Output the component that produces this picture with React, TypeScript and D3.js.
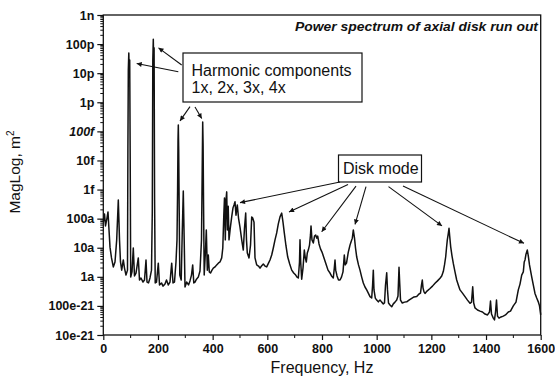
import React, { useRef, useEffect } from 'react';
import * as d3 from 'd3';

// frequency (Hz) and log10 of magnitude (m^2)
const freqHz = [
  0, 4.4, 8, 13.5, 17.2, 20.9, 24.5, 30, 36.6, 42.8, 49, 54.9, 59.3, 62.9, 67.3, 73.2, 77.5, 83, 88.5,
  90, 91.5, 93.3, 95.1, 96.6, 98.4, 100.2, 105, 109.7, 114.1, 119.6, 128, 132.4, 137.9, 145.2, 150.7,
  156.2, 159.9, 165.3, 170.8, 176.3, 179.2, 181.1, 182.9, 184.4, 185.8, 187.6, 189.9, 194.6, 201.2,
  205.6, 212.9, 218.4, 225.7, 231.2, 237.8, 244, 250.2, 255, 260.4, 265.9, 269.6, 271.8, 273.3, 274.4,
  275.8, 277.3, 279.8, 285, 289, 292.6, 295.9, 298.9, 305.1, 311.7, 317.1, 322.6, 327, 331, 335.4,
  340.9, 347.5, 353.7, 359.2, 361.8, 363.6, 365.1, 366.6, 369.1, 373.9, 376.8, 380.5, 384.1, 387.7,
  392.1, 397.6, 402.4, 408.6, 414.8, 420.7, 426.9, 433.1, 437.1, 440.8, 443.3, 446.3, 448.8, 451.4,
  454, 456.9, 459.8, 464.6, 469.7, 474.4, 478.1, 481.8, 485.4, 490.2, 494.6, 500, 506.3, 512.1, 516.5,
  520.9, 523.8, 526.8, 533, 538.5, 542.9, 546.5, 551.3, 554.9, 561.1, 567.7, 573.2, 578.7, 585.3,
  591.5, 597.7, 604.3, 609.8, 616, 621.9, 628.1, 634.3, 640.2, 646.4, 652.6, 657.3, 662.1, 668.3,
  674.6, 681.9, 689.2, 696.5, 703.8, 708.6, 713.3, 717.7, 719.5, 722.1, 725.7, 730.5, 735.3, 738.9,
  742.6, 746.2, 749.9, 754.3, 757.9, 759.8, 763.4, 768.2, 772.6, 777, 780.7, 784.3, 789.1, 794.5,
  800, 807.3, 814.6, 822, 829.3, 834.8, 841.3, 845, 847.6, 850.1, 854.9, 860.4, 865.9, 871.3, 876.8,
  881.6, 884.9, 889.6, 896.2, 899.9, 902.4, 906.1, 910.9, 914.5, 918.9, 922.6, 927, 933.5, 939, 945.2,
  951.1, 957.3, 963.5, 969.4, 975.6, 981.8, 985.1, 987.7, 990.2, 995, 1000.1, 1006, 1012.2, 1018.4,
  1024.2, 1028.6, 1032.3, 1036.7, 1039.6, 1043.3, 1048.7, 1055, 1060.8, 1067, 1073.3, 1078, 1081.7,
  1084.6, 1087.2, 1093.7, 1101.8, 1109.8, 1118.2, 1128.1, 1136.5, 1146.4, 1154.8, 1160.3, 1164,
  1166.9, 1169.5, 1173.1, 1176.8, 1184.1, 1195.1, 1204.2, 1213.4, 1222.5, 1231.7, 1237.9, 1243.7,
  1248.1, 1252.5, 1255.4, 1258.4, 1261.7, 1264.6, 1267.1, 1270.8, 1275.5, 1280.3, 1286.5, 1292.7,
  1298.6, 1304.8, 1313.9, 1323.1, 1332.2, 1341.4, 1346.9, 1351.3, 1354.9, 1359.7, 1368.8, 1378,
  1387.1, 1396.3, 1405.4, 1412.7, 1416.4, 1420.1, 1426.6, 1431, 1434.7, 1438.3, 1442, 1447.5, 1454.8,
  1463.2, 1471.2, 1481.5, 1489.5, 1499.8, 1509.6, 1518.1, 1524.3, 1530.5, 1536.4, 1539.7, 1542.6,
  1546.2, 1551, 1554.6, 1559, 1567.1, 1572.9, 1579.1, 1585.4, 1591.2, 1595.6, 1600,
];

const magExp = [
  -16.12, -15.84, -16.25, -15.98, -15.77, -16.39, -16.98, -17.35, -17.66, -17.49, -16.73, -15.36, -16.73, -17.49, -17.77, -17.42, -17.7, -17.94, -17.77,
  -13.64, -10.89, -10.31, -11.06, -10.55, -13.98, -18.01, -17.83, -17.01, -17.97, -17.87, -17.35, -18.11, -18.04, -18.18, -18.11,
  -17.42, -18.18, -18.21, -18.04, -17.77, -15.77, -10.55, -9.83, -10.72, -10.13, -15.36, -18.21, -18.18, -17.53,
  -18.28, -18.21, -18.32, -18.25, -18.11, -18.28, -18.18, -17.53, -18.21, -18.18, -17.49, -16.73, -15.02, -13.3, -12.78,
  -13.64, -15.36, -17.94, -18.11, -16.39, -15.05, -16.73, -18.35, -18.18, -18.28, -18.14, -17.94, -17.59, -18.21, -18.18,
  -18.08, -18.01, -17.8, -16.73, -14.33, -12.68, -13.47, -15.36, -17.94, -17.08, -16.39, -17.77, -17.25, -17.83,
  -17.87, -17.77, -17.7, -17.66, -17.59, -17.53, -17.49, -17.35, -17.01, -15.88, -15.29, -16.73, -15.36, -15.08,
  -16.39, -15.57, -16.73, -16.32, -15.94, -15.63, -15.53, -15.42, -15.88, -15.53, -15.98, -16.29, -16.73, -17.08, -16.32,
  -15.81, -16.73, -17.18, -17.35, -16.91, -15.94, -15.98, -16.12, -17.35, -17.59, -17.63, -17.7, -17.63, -17.56,
  -17.63, -17.66, -17.53, -17.42, -17.25, -17.01, -16.73, -16.49, -16.18, -15.94, -15.81, -16.12, -16.49, -16.94,
  -17.32, -17.56, -17.77, -17.87, -17.94, -18.01, -18.04, -17.49, -16.73, -17.49, -18.08, -17.7, -17.08, -17.35,
  -17.49, -17.18, -17.08, -16.91, -16.56, -16.25, -16.73, -16.84, -16.6, -16.56, -16.67, -16.6, -16.87, -17.04,
  -17.15, -17.35, -17.56, -17.77, -17.87, -17.97, -18.04, -17.7, -17.42, -17.77, -17.97, -18.11, -18.11, -18.01, -17.83,
  -17.25, -17.59, -17.53, -17.15, -17.01, -16.91, -16.8, -16.67, -16.39, -16.67, -17.01, -17.32, -17.59, -17.77, -18.01,
  -18.21, -18.35, -18.45, -18.56, -18.68, -18.73, -18.28, -17.77, -18.45, -18.73, -18.8, -18.86, -18.8, -18.87,
  -18.93, -18.9, -18.28, -17.86, -18.45, -18.9, -18.97, -19.03, -18.93, -18.87, -18.8, -18.66, -17.67,
  -18.28, -18.8, -18.9, -18.87, -18.86, -18.8, -18.74, -18.69, -18.68, -18.59, -18.56, -18.28,
  -18.11, -18.38, -18.52, -18.57, -18.49, -18.4, -18.32, -18.22, -18.14, -18.05, -17.97, -17.82,
  -17.59, -17.31, -17.01, -16.73, -16.53, -16.33, -16.6, -16.97, -17.28, -17.54, -17.83, -18.11,
  -18.28, -18.45, -18.56, -18.68, -18.8, -18.91, -18.87, -18.34, -18.9, -19.07, -19.14, -19.18,
  -19.21, -19.28, -19.31, -19.21, -18.83, -19.28, -19.42, -19.48, -19.21, -18.8, -19.35, -19.42, -19.38,
  -19.35, -19.31, -19.21, -19.18, -19.0, -18.87, -18.45, -18.25, -17.94, -17.83, -17.49, -17.42,
  -17.22, -17.08, -17.28, -17.59, -18.0, -18.28, -18.57, -18.73, -18.86, -19.0, -19.31,
];

const yTickValues = [1e-9, 1e-10, 1e-11, 1e-12, 1e-13, 1e-14, 1e-15, 1e-16, 1e-17, 1e-18, 1e-19, 1e-20];
const yTickLabels = ['1n', '100p', '10p', '1p', '100f', '10f', '1f', '100a', '10a', '1a', '100e-21', '10e-21'];
const xTickValues = [0, 200, 400, 600, 800, 1000, 1200, 1400, 1600];

// annotation arrows in data units: [fromHz, fromExp, toHz, toExp]
const harmonicArrows = [
  [274.4, -10.95, 122.2, -10.67],
  [286.8, -10.72, 201.9, -10.13],
  [317.1, -12.15, 280.6, -12.64],
  [335.4, -12.16, 360.0, -12.56],
];
const diskArrows = [
  [865.9, -14.74, 500.0, -15.45],
  [895.1, -14.83, 679.3, -15.77],
  [924.4, -14.88, 798.9, -16.45],
  [961.0, -14.9, 920.8, -16.2],
  [1043.3, -14.9, 1239.0, -16.25],
  [1096.3, -14.88, 1538.9, -16.85],
];

const FONT = "'Liberation Sans', Arial, sans-serif";

function Spectrum({ width = 555, height = 387 }) {
  const svgRef = useRef(null);

  useEffect(() => {
    const svg = d3.select(svgRef.current);
    svg.selectAll('*').remove();
    svg.attr('width', width).attr('height', height);

    const left = 103.3, right = 540.7, top = 15, bottom = 335;
    const x = d3.scaleLinear().domain([0, 1600]).range([left, right]);
    const y = d3.scaleLog().domain([1e-20, 1e-9]).range([bottom, top]);

    const defs = svg.append('defs');
    defs.append('marker')
      .attr('id', 'head')
      .attr('viewBox', '0 0 10 10')
      .attr('refX', 10).attr('refY', 5)
      .attr('markerWidth', 7).attr('markerHeight', 5)
      .attr('markerUnits', 'userSpaceOnUse')
      .attr('orient', 'auto')
      .append('path')
      .attr('d', 'M0,0 L10,5 L0,10 Z')
      .attr('fill', '#111');

    svg.append('rect').attr('width', width).attr('height', height).attr('fill', '#fff');

    // spectrum trace
    const pts = freqHz.map((f, i) => [f, Math.pow(10, magExp[i])]);
    svg.append('path')
      .datum(pts)
      .attr('fill', 'none')
      .attr('stroke', '#111')
      .attr('stroke-width', 1.5)
      .attr('stroke-linejoin', 'round')
      .attr('d', d3.line().x(d => x(d[0])).y(d => y(d[1])));

    // frame
    svg.append('rect')
      .attr('x', left).attr('y', top)
      .attr('width', right - left).attr('height', bottom - top)
      .attr('fill', 'none').attr('stroke', '#111').attr('stroke-width', 1.3);

    // y axis
    const yAxis = d3.axisLeft(y)
      .tickValues(yTickValues)
      .tickFormat((d, i) => yTickLabels[i])
      .tickSize(6)
      .tickPadding(3);
    const gy = svg.append('g').attr('transform', `translate(${left},0)`).call(yAxis);
    gy.select('.domain').remove();
    gy.selectAll('line').attr('stroke', '#111').attr('stroke-width', 1.2);
    gy.selectAll('text')
      .attr('font-family', FONT).attr('font-size', 12.5).attr('font-weight', 'bold').attr('fill', '#111')
      .attr('font-style', (d, i) => (yTickLabels[i] === '100f' ? 'italic' : 'normal'));

    const yMinor = [];
    for (let e = -20; e < -9; e++) for (let k = 2; k <= 9; k++) yMinor.push(k * Math.pow(10, e));
    svg.append('g').selectAll('line').data(yMinor).enter().append('line')
      .attr('x1', left - 3).attr('x2', left)
      .attr('y1', d => y(d)).attr('y2', d => y(d))
      .attr('stroke', '#111').attr('stroke-width', 1);

    // x axis
    const xAxis = d3.axisBottom(x).tickValues(xTickValues).tickFormat(d3.format('d')).tickSize(5).tickPadding(4);
    const gx = svg.append('g').attr('transform', `translate(0,${bottom})`).call(xAxis);
    gx.select('.domain').remove();
    gx.selectAll('line').attr('stroke', '#111').attr('stroke-width', 1.2);
    gx.selectAll('text')
      .attr('font-family', FONT).attr('font-size', 12.5).attr('font-weight', 'bold').attr('fill', '#111');
    svg.append('g').selectAll('line').data(d3.range(100, 1600, 200)).enter().append('line')
      .attr('x1', d => x(d)).attr('x2', d => x(d))
      .attr('y1', bottom).attr('y2', bottom + 3)
      .attr('stroke', '#111').attr('stroke-width', 1);

    // axis titles
    svg.append('text')
      .attr('x', (left + right) / 2).attr('y', 373)
      .attr('text-anchor', 'middle')
      .attr('font-family', FONT).attr('font-size', 16).attr('fill', '#111')
      .text('Frequency, Hz');
    const yl = svg.append('text')
      .attr('transform', 'translate(20,172) rotate(-90)')
      .attr('text-anchor', 'middle')
      .attr('font-family', FONT).attr('font-size', 15.5).attr('fill', '#111');
    yl.append('tspan').text('MagLog, m');
    yl.append('tspan').attr('dy', -6).attr('font-size', 10).text('2');

    // title
    svg.append('text')
      .attr('x', 538).attr('y', 31)
      .attr('text-anchor', 'end')
      .attr('font-family', FONT).attr('font-size', 12.5)
      .attr('font-weight', 'bold').attr('font-style', 'italic').attr('fill', '#111')
      .attr('textLength', 243).attr('lengthAdjust', 'spacingAndGlyphs')
      .text('Power spectrum of axial disk run out');

    // annotation boxes
    svg.append('rect')
      .attr('x', 183).attr('y', 53).attr('width', 179).attr('height', 49)
      .attr('fill', '#fff').attr('stroke', '#111').attr('stroke-width', 1.2);
    const ht = svg.append('text').attr('font-family', FONT).attr('font-size', 16).attr('fill', '#111');
    ht.append('tspan').attr('x', 191.5).attr('y', 76).text('Harmonic components');
    ht.append('tspan').attr('x', 191.5).attr('y', 93).text('1x, 2x, 3x, 4x');

    svg.append('rect')
      .attr('x', 338.5).attr('y', 155).attr('width', 83).attr('height', 27)
      .attr('fill', '#fff').attr('stroke', '#111').attr('stroke-width', 1.2);
    svg.append('text')
      .attr('x', 343).attr('y', 173.5)
      .attr('font-family', FONT).attr('font-size', 16).attr('fill', '#111')
      .text('Disk mode');

    // arrows
    svg.append('g').selectAll('line').data(harmonicArrows.concat(diskArrows)).enter().append('line')
      .attr('x1', d => x(d[0])).attr('y1', d => y(Math.pow(10, d[1])))
      .attr('x2', d => x(d[2])).attr('y2', d => y(Math.pow(10, d[3])))
      .attr('stroke', '#111').attr('stroke-width', 1.1)
      .attr('marker-end', 'url(#head)');
  }, [width, height]);

  return <svg ref={svgRef} style={{ position: 'absolute', left: 0, top: 0 }} />;
}

export default function App() {
  return <Spectrum />;
}
